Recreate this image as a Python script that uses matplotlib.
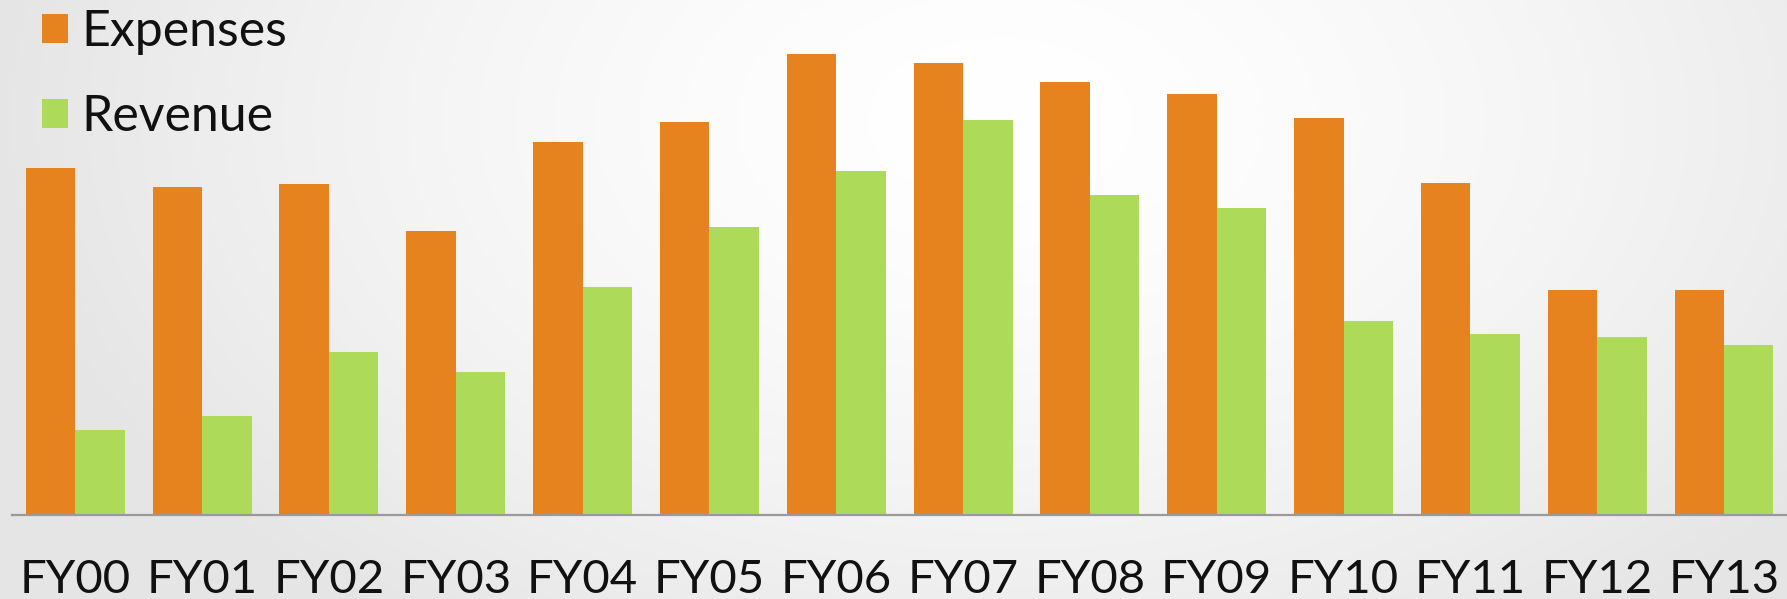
import numpy as np
import matplotlib
matplotlib.use("Agg")
import matplotlib.pyplot as plt
from matplotlib.patches import Patch

# Fiscal-year totals (same units for both series)
years = ["FY00", "FY01", "FY02", "FY03", "FY04", "FY05", "FY06",
         "FY07", "FY08", "FY09", "FY10", "FY11", "FY12", "FY13"]
expenses = [346.5, 327.4, 330.5, 284.2, 372.5, 392.7, 461.1,
            451.6, 432.8, 420.6, 396.9, 331.6, 224.3, 225.0]
revenue = [85.2, 98.6, 162.8, 142.5, 227.7, 287.7, 343.5,
           394.3, 320.2, 306.4, 193.7, 180.3, 177.3, 169.6]

ORANGE = "#E6831F"
GREEN = "#ADDB59"

W, H, DPI = 1787, 599, 100
fig = plt.figure(figsize=(W / DPI, H / DPI), dpi=DPI)

# soft radial background: white near the top middle, light grey at the edges
bg = fig.add_axes([0, 0, 1, 1], zorder=-10)
yy, xx = np.mgrid[0:H, 0:W]
cx, cy = 1000.0, 120.0
r = np.sqrt(((xx - cx) / 1.0) ** 2 + ((yy - cy) * 1.6) ** 2)
r = np.clip(r / 1000.0, 0, 1)
shade = 1.0 - 0.10 * r ** 1.6
bg.imshow(np.dstack([shade, shade, shade]), aspect="auto", interpolation="bilinear")
bg.axis("off")

plt.rcParams["font.family"] = ["Lato", "DejaVu Sans"]

ax = fig.add_axes([11.9 / W, 84.3 / H, 1775.5 / W, 514.7 / H])
ax.set_facecolor("none")

x = np.arange(len(years))
bw = 0.39
ax.bar(x - bw / 2, expenses, width=bw, color=ORANGE, label="Expenses", zorder=2)
ax.bar(x + bw / 2, revenue, width=bw, color=GREEN, label="Revenue", zorder=2)

ax.set_xlim(-0.5, len(years) - 0.5)
ax.set_ylim(0, 514.7)

for side in ("top", "right", "left"):
    ax.spines[side].set_visible(False)
ax.spines["bottom"].set_color("#9a9a9a")
ax.spines["bottom"].set_linewidth(1.6)
ax.spines["bottom"].set_zorder(3)

ax.set_yticks([])
ax.set_xticks(x)
ax.set_xticklabels(years, fontsize=34, color="#111111")
ax.tick_params(axis="x", length=0, pad=32)

handles = [Patch(facecolor=ORANGE, label="Expenses"),
           Patch(facecolor=GREEN, label="Revenue")]
leg = fig.legend(handles=handles, loc="upper left",
                 bbox_to_anchor=(42 / W, 1 - 9 / H),
                 frameon=False, fontsize=36,
                 handlelength=0.52, handleheight=0.52,
                 handletextpad=0.27, labelspacing=0.78,
                 borderaxespad=0, borderpad=0)
for t in leg.get_texts():
    t.set_color("#111111")

fig.savefig("out.png", dpi=DPI)
